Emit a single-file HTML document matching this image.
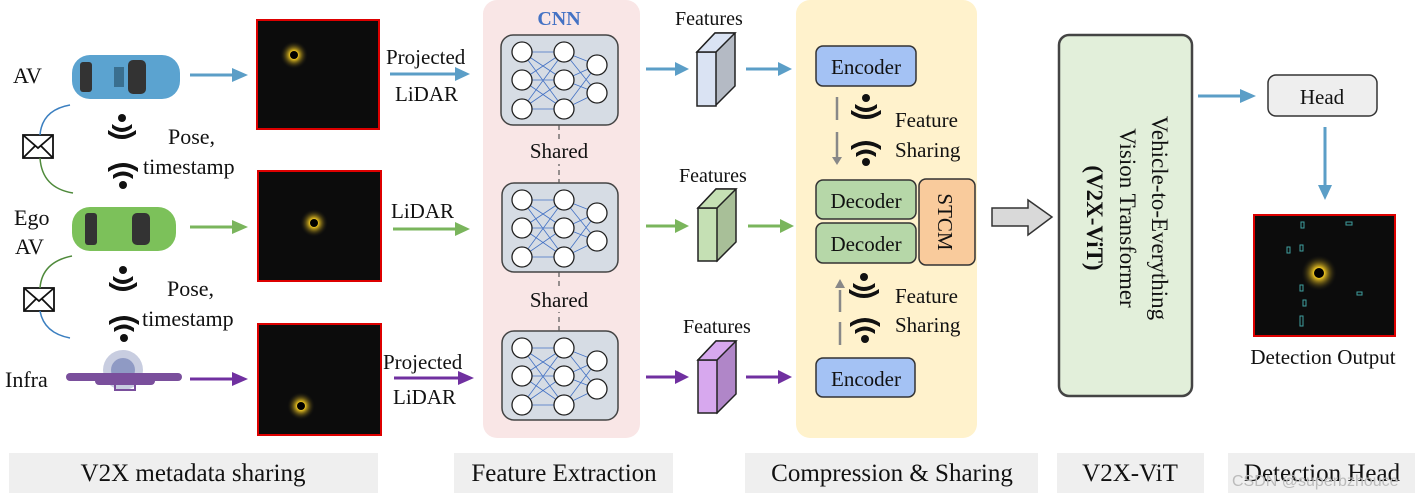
<!DOCTYPE html>
<html><head><meta charset="utf-8"><style>
body{margin:0;background:#fff}
svg{display:block}
text{font-family:"Liberation Serif",serif;fill:#111}
</style></head><body>
<svg width="1420" height="498" viewBox="0 0 1420 498" xmlns="http://www.w3.org/2000/svg">
<defs>
<radialGradient id="glow"><stop offset="0" stop-color="#fff38a"/><stop offset="0.3" stop-color="#e8c020"/><stop offset="1" stop-color="#111" stop-opacity="0"/></radialGradient>
<g id="rings" fill="none" stroke="#4a3412" stroke-width="0.8"><circle r="12"/><circle r="19"/><circle r="26"/><circle r="33"/><circle r="40"/><circle r="47"/><circle r="54"/></g>
<clipPath id="c1"><rect x="257" y="20" width="122" height="109"/></clipPath>
<clipPath id="c2"><rect x="258" y="171" width="123" height="110"/></clipPath>
<clipPath id="c3"><rect x="258" y="324" width="123" height="111"/></clipPath>
<clipPath id="c4"><rect x="1254" y="215" width="141" height="121"/></clipPath>
</defs>
<!-- panels -->
<rect x="483" y="0" width="157" height="438" rx="14" fill="#f9e6e6"/>
<rect x="796" y="0" width="181" height="438" rx="14" fill="#fff2cc"/>
<!-- bottom bars -->
<g fill="#efefef">
<rect x="9" y="453" width="369" height="40"/><rect x="454" y="453" width="219" height="40"/>
<rect x="745" y="453" width="293" height="40"/><rect x="1057" y="453" width="147" height="40"/>
<rect x="1228" y="453" width="187" height="40"/></g>
<g font-size="25" text-anchor="middle">
<text x="193" y="481">V2X metadata sharing</text>
<text x="564" y="481">Feature Extraction</text>
<text x="892" y="481">Compression &amp; Sharing</text>
<text x="1130" y="481">V2X-ViT</text>
<text x="1322" y="481">Detection Head</text>
</g>
<!-- left labels -->
<g font-size="22">
<text x="13" y="83">AV</text>
<text x="14" y="225">Ego</text><text x="15" y="254">AV</text>
<text x="5" y="387">Infra</text>
<text x="168" y="144">Pose,</text><text x="143" y="174">timestamp</text>
<text x="167" y="296">Pose,</text><text x="142" y="326">timestamp</text>
</g>
<!-- cars -->
<rect x="72" y="55" width="108" height="44" rx="18" fill="#5ba3d0"/>
<rect x="80" y="62" width="12" height="30" rx="3" fill="#333"/><rect x="128" y="60" width="18" height="34" rx="5" fill="#333"/><rect x="114" y="67" width="10" height="20" fill="#3a6f8f"/>
<rect x="72" y="207" width="104" height="44" rx="18" fill="#7cc15a"/>
<rect x="85" y="213" width="12" height="32" rx="3" fill="#333"/><rect x="132" y="213" width="18" height="32" rx="5" fill="#333"/>
<!-- infra -->
<circle cx="123" cy="370" r="20" fill="#c8cde0"/><circle cx="123" cy="370" r="12" fill="#8f9ac4"/>
<rect x="66" y="373" width="116" height="8" rx="4" fill="#7a4f9c"/><rect x="95" y="373" width="60" height="12" rx="4" fill="#7a4f9c"/>
<rect x="115" y="383" width="20" height="7" fill="none" stroke="#7a4f9c" stroke-width="2"/>
<!-- envelopes -->
<g fill="#fff" stroke="#111" stroke-width="1.8">
<rect x="23" y="135" width="30" height="23"/><path d="M23,135 L38,148 L53,135 M23,158 L35,146 M53,158 L41,146" fill="none"/>
<rect x="24" y="288" width="30" height="23"/><path d="M24,288 L39,301 L54,288 M24,311 L36,299 M54,311 L42,299" fill="none"/>
</g>
<g fill="none" stroke-width="1.5">
<path d="M40,135 Q42,110 70,105" stroke="#3b7fc0"/><path d="M40,158 Q42,188 73,193" stroke="#4f8a3b"/>
<path d="M40,288 Q42,262 72,256" stroke="#4f8a3b"/><path d="M40,311 Q44,333 70,338" stroke="#3b7fc0"/>
</g>
<!-- wifi icons -->
<g fill="#111">
<circle cx="122" cy="118" r="4"/><path d="M108,130 Q122,140 136,130 L136,134 Q122,144 108,134z M112,124 Q122,132 132,124 L132,128 Q122,136 112,128z"/>
<circle cx="123" cy="185" r="4"/><path d="M108,168 Q123,158 138,168 L138,172 Q123,162 108,172z M113,175 Q123,168 133,175 L133,179 Q123,172 113,179z"/>
<circle cx="123" cy="270" r="4"/><path d="M109,282 Q123,292 137,282 L137,286 Q123,296 109,286z M113,276 Q123,284 133,276 L133,280 Q123,288 113,280z"/>
<circle cx="124" cy="338" r="4"/><path d="M109,321 Q124,311 139,321 L139,325 Q124,315 109,325z M114,328 Q124,321 134,328 L134,332 Q124,325 114,332z"/>
</g>
<!-- lidar images -->
<g stroke="#d00" stroke-width="2" fill="#0c0c0c">
<rect x="257" y="20" width="122" height="109"/><rect x="258" y="171" width="123" height="110"/><rect x="258" y="324" width="123" height="111"/>
<rect x="1254" y="215" width="141" height="121"/>
</g>
<use href="#rings" x="294" y="55" clip-path="url(#c1)"/>
<use href="#rings" x="314" y="223" clip-path="url(#c2)"/>
<use href="#rings" x="301" y="406" clip-path="url(#c3)"/>
<use href="#rings" x="1319" y="273" clip-path="url(#c4)"/>
<circle cx="294" cy="55" r="14" fill="url(#glow)"/><circle cx="294" cy="55" r="4" fill="#000"/>
<circle cx="314" cy="223" r="14" fill="url(#glow)"/><circle cx="314" cy="223" r="4" fill="#000"/>
<circle cx="301" cy="406" r="14" fill="url(#glow)"/><circle cx="301" cy="406" r="4" fill="#000"/>
<circle cx="1319" cy="273" r="18" fill="url(#glow)"/><circle cx="1319" cy="273" r="5" fill="#000"/>
<!-- arrows colored -->
<g stroke-width="3" fill="none">
<path d="M190,75 H232" stroke="#5b9ec7"/><path d="M190,227 H232" stroke="#7ab55c"/><path d="M190,379 H232" stroke="#7030a0"/>
<path d="M390,74 H455" stroke="#5b9ec7"/><path d="M393,229 H455" stroke="#7ab55c"/><path d="M394,378 H458" stroke="#7030a0"/>
<path d="M646,69 H675" stroke="#5b9ec7"/><path d="M646,226 H675" stroke="#7ab55c"/><path d="M646,377 H675" stroke="#7030a0"/>
<path d="M746,69 H778" stroke="#5b9ec7"/><path d="M748,226 H780" stroke="#7ab55c"/><path d="M746,377 H778" stroke="#7030a0"/>
<path d="M1198,96 H1240" stroke="#5b9ec7"/><path d="M1325,127 V185" stroke="#5b9ec7"/>
</g>
<g>
<path d="M232,68 L248,75 L232,82z" fill="#5b9ec7"/><path d="M232,220 L248,227 L232,234z" fill="#7ab55c"/><path d="M232,372 L248,379 L232,386z" fill="#7030a0"/>
<path d="M455,67 L470,74 L455,81z" fill="#5b9ec7"/><path d="M455,222 L470,229 L455,236z" fill="#7ab55c"/><path d="M458,371 L474,378 L458,385z" fill="#7030a0"/>
<path d="M675,62 L689,69 L675,76z" fill="#5b9ec7"/><path d="M675,219 L689,226 L675,233z" fill="#7ab55c"/><path d="M675,370 L689,377 L675,384z" fill="#7030a0"/>
<path d="M778,62 L792,69 L778,76z" fill="#5b9ec7"/><path d="M780,219 L794,226 L780,233z" fill="#7ab55c"/><path d="M778,370 L792,377 L778,384z" fill="#7030a0"/>
<path d="M1240,89 L1256,96 L1240,103z" fill="#5b9ec7"/><path d="M1318,185 L1325,200 L1332,185z" fill="#5b9ec7"/>
</g>
<g font-size="21">
<text x="386" y="64">Projected</text><text x="395" y="101">LiDAR</text>
<text x="391" y="218">LiDAR</text>
<text x="383" y="369">Projected</text><text x="393" y="404">LiDAR</text>
</g>
<!-- CNN -->
<text x="559" y="25" font-size="20" font-weight="bold" text-anchor="middle" style="fill:#4472c4">CNN</text>
<g fill="#d6dce4" stroke="#444" stroke-width="1.5">
<rect x="501" y="35" width="117" height="90" rx="12"/><rect x="502" y="183" width="116" height="89" rx="12"/><rect x="502" y="331" width="116" height="89" rx="12"/>
</g>
<g stroke="#555" stroke-dasharray="5,4" stroke-width="1.2"><path d="M559,125 V183 M559,272 V331"/></g>
<rect x="525" y="140" width="70" height="24" fill="#f9e6e6"/><rect x="525" y="288" width="70" height="24" fill="#f9e6e6"/>
<text x="559" y="158" font-size="21" text-anchor="middle">Shared</text>
<text x="559" y="307" font-size="21" text-anchor="middle">Shared</text>
<g id="net">
<g stroke="#4472c4" stroke-width="0.8">
<path d="M522,52 L564,52 M522,80 L564,80 M522,109 L564,109 M522,52 L564,80 M522,52 L564,109 M522,80 L564,52 M522,80 L564,109 M522,109 L564,52 M522,109 L564,80 M564,52 L597,65 M564,52 L597,93 M564,80 L597,65 M564,80 L597,93 M564,109 L597,65 M564,109 L597,93"/>
</g>
<g fill="#fff" stroke="#222" stroke-width="1.3">
<circle cx="522" cy="52" r="10"/><circle cx="522" cy="80" r="10"/><circle cx="522" cy="109" r="10"/>
<circle cx="564" cy="52" r="10"/><circle cx="564" cy="80" r="10"/><circle cx="564" cy="109" r="10"/>
<circle cx="597" cy="65" r="10"/><circle cx="597" cy="93" r="10"/></g>
</g>
<use href="#net" y="148"/><use href="#net" y="296"/>
<!-- features -->
<g font-size="20"><text x="675" y="25">Features</text><text x="679" y="182">Features</text><text x="683" y="333">Features</text></g>
<g stroke="#222" stroke-width="1.5">
<path d="M697,52 L715,33 L735,33 L735,86 L716,105 Z" fill="#b4bac4"/><rect x="697" y="52" width="19" height="54" fill="#dae3f3"/><path d="M697,52 L715,33 L735,33 L716,52Z" fill="#dae3f3"/>
<path d="M698,208 L716,189 L736,189 L736,242 L717,261 Z" fill="#a8bf98"/><rect x="698" y="208" width="19" height="53" fill="#c5e0b4"/><path d="M698,208 L716,189 L736,189 L717,208Z" fill="#c5e0b4"/>
<path d="M698,360 L716,341 L736,341 L736,394 L717,413 Z" fill="#b086c8"/><rect x="698" y="360" width="19" height="53" fill="#d7a8ee"/><path d="M698,360 L716,341 L736,341 L717,360Z" fill="#d7a8ee"/>
</g>
<!-- compression -->
<g stroke="#333" stroke-width="1.5">
<rect x="816" y="46" width="100" height="40" rx="7" fill="#a4c2f4"/>
<rect x="816" y="180" width="100" height="39" rx="7" fill="#b6d7a8"/>
<rect x="816" y="223" width="100" height="40" rx="7" fill="#b6d7a8"/>
<rect x="919" y="179" width="56" height="86" rx="7" fill="#f9cb9c"/>
<rect x="816" y="358" width="99" height="39" rx="7" fill="#a4c2f4"/>
</g>
<g font-size="21" text-anchor="middle">
<text x="866" y="74">Encoder</text><text x="866" y="208">Decoder</text><text x="866" y="251">Decoder</text><text x="866" y="386">Encoder</text>
</g>
<text transform="translate(938,222) rotate(90)" font-size="21" text-anchor="middle">STCM</text>
<g stroke="#888" stroke-width="2.5"><path d="M837,97 V120 M837,132 V158"/><path d="M840,290 V312 M840,322 V345"/></g>
<path d="M832,157 L837,165 L842,157z" fill="#888"/><path d="M835,288 L840,279 L845,288z" fill="#888"/>
<g fill="#111">
<circle cx="866" cy="98" r="4"/><path d="M851,110 Q866,120 881,110 L881,114 Q866,124 851,114z M855,104 Q866,112 877,104 L877,108 Q866,116 855,108z"/>
<circle cx="866" cy="162" r="4"/><path d="M851,146 Q866,136 881,146 L881,150 Q866,140 851,150z M856,153 Q866,146 876,153 L876,157 Q866,150 856,157z"/>
<circle cx="864" cy="277" r="4"/><path d="M849,289 Q864,299 879,289 L879,293 Q864,303 849,293z M853,283 Q864,291 875,283 L875,287 Q864,295 853,287z"/>
<circle cx="865" cy="339" r="4"/><path d="M850,323 Q865,313 880,323 L880,327 Q865,317 850,327z M855,330 Q865,323 875,330 L875,334 Q865,327 855,334z"/>
</g>
<g font-size="21"><text x="895" y="127">Feature</text><text x="895" y="157">Sharing</text><text x="895" y="303">Feature</text><text x="895" y="332">Sharing</text></g>
<!-- big arrow -->
<path d="M992,208 L1028,208 L1028,200 L1052,217 L1028,235 L1028,226 L992,226Z" fill="#d9d9d9" stroke="#333" stroke-width="1.5"/>
<!-- vit -->
<rect x="1059" y="35" width="133" height="361" rx="10" fill="#e2efda" stroke="#444" stroke-width="2.5"/>
<g font-size="23" text-anchor="middle">
<text transform="translate(1152,218) rotate(90)">Vehicle-to-Everything</text>
<text transform="translate(1120,218) rotate(90)">Vision Transformer</text>
<text transform="translate(1087,218) rotate(90)" font-weight="bold">(V2X-ViT)</text>
</g>
<rect x="1268" y="75" width="109" height="41" rx="8" fill="#eee" stroke="#333" stroke-width="1.5"/>
<text x="1322" y="104" font-size="21" text-anchor="middle">Head</text>
<text x="1323" y="364" font-size="21" text-anchor="middle">Detection Output</text>
<g fill="none" stroke="#3fa0a0" stroke-width="1"><rect x="1301" y="222" width="3" height="6"/><rect x="1346" y="222" width="6" height="3"/><rect x="1287" y="247" width="3" height="6"/><rect x="1300" y="245" width="3" height="6"/><rect x="1300" y="285" width="3" height="6"/><rect x="1303" y="300" width="3" height="6"/><rect x="1300" y="316" width="3" height="10"/><rect x="1357" y="292" width="5" height="3"/></g>
<text x="1232" y="486" font-size="16" style="fill:#bbb;font-family:'Liberation Sans',sans-serif">CSDN @superbzhouce</text>
</svg>
</body></html>
